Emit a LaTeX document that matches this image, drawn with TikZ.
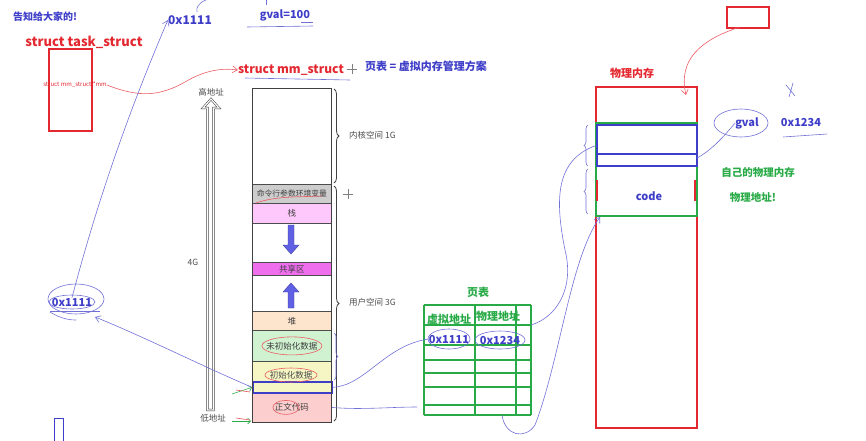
\documentclass[tikz,border=0pt]{standalone}
\usepackage{fontspec}
\setmainfont{Noto Sans CJK SC}
\usetikzlibrary{arrows.meta,decorations.pathreplacing,shapes.geometric,calc}
\definecolor{cred}{RGB}{228,40,48}
\definecolor{tblue}{RGB}{62,62,200}
\definecolor{hblue}{RGB}{112,112,215}
\definecolor{cgreen}{RGB}{40,170,70}
\definecolor{cgray}{RGB}{205,205,205}
\definecolor{cpink}{RGB}{255,200,252}
\definecolor{cmag}{RGB}{238,110,238}
\definecolor{cheap}{RGB}{252,228,205}
\definecolor{cuninit}{RGB}{208,242,208}
\definecolor{cinit}{RGB}{246,246,196}
\definecolor{ccode}{RGB}{252,206,206}
\definecolor{barrow}{RGB}{96,96,228}
\begin{document}
\begin{tikzpicture}[x=1pt,y=-1pt,
  seg/.style={draw=black!70, line width=0.8pt, minimum width=79pt, anchor=north west, inner sep=0pt, font=\fontsize{8.5}{9}\selectfont, text=black!75},
  hand/.style={draw=hblue, line width=0.6pt},
  redhand/.style={draw=cred!75, line width=0.6pt},
  harrow/.style={-{Straight Barb[length=5pt,width=7pt]}},
  btxt/.style={text=tblue, font=\bfseries\fontsize{11}{13}\selectfont, inner sep=0pt},
  rtxt/.style={text=cred, font=\bfseries\fontsize{12}{14}\selectfont, inner sep=0pt},
  gtxt/.style={text=cgreen, font=\bfseries\fontsize{10.5}{12}\selectfont, inner sep=0pt},
  small/.style={text=black!70, font=\fontsize{8.5}{9}\selectfont, inner sep=0pt},
  tline/.style={draw=cgreen, line width=1.1pt},
  blockarrow/.style={fill=barrow, draw=barrow!70!black, line width=0.4pt}
]
\useasboundingbox (0,0) rectangle (866,440);

% ---------- top left ----------
\node[btxt, font=\bfseries\fontsize{10}{12}\selectfont] (tell) at (45,17) {告知给大家的!};
\node[rtxt, font=\bfseries\fontsize{13}{15}\selectfont] (task) at (84,42) {struct task\_struct};
\draw[cred, line width=1.3pt] (49,49) rectangle (92,131);
\node[text=cred, font=\fontsize{6}{7}\selectfont, inner sep=0pt] (mmtxt) at (75,85) {struct mm\_struct *mm};

\node[btxt, font=\bfseries\fontsize{12}{14}\selectfont] (hex1top) at (190,20) {0x1111};
\node[btxt, font=\bfseries\fontsize{11}{13}\selectfont] (gval100) at (285,15) {gval=100};
\draw[hand] (266,0) -- (266,5);
\draw[hand] (247,27) -- (313,26);
\draw[hand] (301,22) -- (313,22);
\draw[hand] (206,0) .. controls (198,3) and (196,8) .. (197,12);

\node[rtxt] (mm) at (291,70) {struct mm\_struct};
\draw[hand] (245,78) -- (350,80);
\draw[black!50, line width=0.5pt] (347,69) -- (357,69) (352,64) -- (352,74);
\node[btxt] (pt) at (426,66) {页表 = 虚拟内存管理方案};

\draw[redhand, harrow] (mmtxt.east) .. controls (140,98) and (160,96) .. (185,82) .. controls (205,70) and (222,68) .. (mm.west);

% ---------- left address arrow ----------
\draw[black!80, line width=0.5pt, double=white, double distance=1.2pt, fill=white]
  (211,99) -- (219,108) -- (213.5,108) -- (213.5,410) -- (207.5,410) -- (207.5,108) -- (203,108) -- cycle;
\node[small] (hi) at (211,92) {高地址};
\node[small] (lo) at (213,418) {低地址};
\node[small] (fourg) at (193,262) {4G};

% ---------- memory column ----------
\node[seg, minimum height=96pt] (kern) at (252,88) {};
\node[seg, minimum height=19pt, fill=cgray, font=\fontsize{7.8}{8}\selectfont] (cmd) at (252,184) {命令行参数环境变量};
\node[seg, minimum height=20pt, fill=cpink] (stack) at (252,203) {栈};
\node[seg, minimum height=39pt] (gap1) at (252,223) {};
\node[seg, minimum height=13pt, fill=cmag] (shared) at (252,262) {共享区};
\node[seg, minimum height=36pt] (gap2) at (252,275) {};
\node[seg, minimum height=19pt, fill=cheap] (heap) at (252,311) {堆};
\node[seg, minimum height=31pt, fill=cuninit] (uninit) at (252,330) {未初始化数据};
\node[seg, minimum height=31pt, fill=cinit] (init) at (252,361) {};
\node[small] (inittxt) at (291,375) {初始化数据};
\node[seg, minimum height=30pt, fill=ccode] (code) at (252,392) {正文代码};
\node[draw=tblue, line width=1.6pt, minimum width=79pt, minimum height=11pt, anchor=north west, inner sep=0pt] (bbox) at (252,381) {};
\draw[black!75, line width=1pt] (252,88) rectangle (331,422);

% red hand annotations in column
\draw[redhand] (uninit.center) ellipse [x radius=30pt, y radius=9pt];
\draw[redhand] (inittxt.center) ellipse [x radius=26pt, y radius=7pt];
\draw[redhand] ($(code.center)+(-6,0)$) ellipse [x radius=13pt, y radius=7pt];
\draw[redhand] (256,203) .. controls (275,196) and (300,197) .. (322,196);

% block arrows
\draw[blockarrow] (288,225) -- (294,225) -- (294,245) -- (299,245) -- (291,254) -- (283,245) -- (288,245) -- cycle;
\draw[blockarrow] (288,308) -- (294,308) -- (294,292) -- (299,292) -- (291,283) -- (283,292) -- (288,292) -- cycle;

% braces
\draw[black!75, line width=0.8pt, decorate, decoration={brace, amplitude=5pt}] (334,89) -- (334,183) coordinate[midway] (kb);
\draw[black!75, line width=0.8pt, decorate, decoration={brace, amplitude=5pt}] (334,186) -- (334,421) coordinate[midway] (ub);
\node[small, anchor=west] (kerntxt) at (349,135) {内核空间 1G};
\node[small, anchor=west] (usertxt) at (349,302) {用户空间 3G};
\draw[hand, decorate, decoration={brace, amplitude=4pt}] (334,333) -- (334,380);
\draw[black!50, line width=0.5pt] (343,194) -- (353,194) (348,189) -- (348,199);

% small arrows into column
\draw[cgreen, line width=0.6pt, -{Straight Barb[length=3pt]}] (232,394) -- (bbox.west);
\draw[cred!80, line width=0.6pt] (236,390) -- (250,392);
\draw[cgreen, line width=0.6pt, -{Straight Barb[length=3pt]}] (232,421) -- (251,421);
\draw[cred!80, line width=0.6pt] (236,418) -- (250,420);

% ---------- left 0x1111 ----------
\node[btxt] (hex1left) at (72,302) {0x1111};
\draw[hand] (hex1left.center) ellipse [x radius=23pt, y radius=7pt];
\draw[hand] (76,299) ellipse [x radius=28pt, y radius=15pt];
\draw[hand] (50,311) -- (100,311);
\draw[hand] (50,312) .. controls (60,318) and (68,320) .. (76,320);
\draw[hand, harrow] (hex1left.north) .. controls (95,210) and (125,120) .. (hex1top.west);
\draw[hand, harrow] (bbox.west) .. controls (200,365) and (140,335) .. (95,317);

% ---------- page table ----------
\node[gtxt, font=\bfseries\fontsize{11}{13}\selectfont] (pttitle) at (478,292) {页表};
\foreach \yy in {305,325,345,360,373,387,405,415} {\draw[tline] (424,\yy) -- (531,\yy);}
\draw[tline] (424,305) -- (424,415);
\draw[tline] (475,305) -- (475,415);
\draw[tline] (516,305) -- (516,415);
\draw[tline] (531,305) -- (531,415);
\node[gtxt, font=\bfseries\fontsize{11}{13}\selectfont] (vaddr) at (449,319) {虚拟地址};
\node[gtxt, font=\bfseries\fontsize{11}{13}\selectfont] (paddr) at (498,316) {物理地址};
\node[btxt] (t1111) at (449,339) {0x1111};
\node[btxt] (t1234) at (500,340) {0x1234};
\draw[hand] (t1111.center) ellipse [x radius=21pt, y radius=10pt];
\draw[hand] (t1234.center) ellipse [x radius=25pt, y radius=9pt];
\draw[hand] (bbox.east) .. controls (365,386) and (385,345) .. (t1111.west);
\draw[hand] (code.east) .. controls (360,410) and (390,407) .. (417,407);

% ---------- physical memory ----------
\node[rtxt, font=\bfseries\fontsize{11}{13}\selectfont] (physt) at (632,73) {物理内存};
\draw[cred, line width=1.2pt] (596,87) rectangle (697,428);
\draw[cgreen, line width=1.2pt] (596,123) rectangle (697,216);
\node[draw=tblue, line width=2pt, minimum width=100pt, minimum height=41pt, anchor=north west, inner sep=0pt] (pbox) at (596,124) {};
\draw[tblue, line width=2pt] (596,154) -- (696,154);
\coordinate (pstrip) at (697,158);
\draw[cred, line width=1.2pt] (597,180) -- (597,201) (695,180) -- (695,201);
\node[btxt] (code2) at (649,196) {code};
\draw[hand, decorate, decoration={brace, mirror, amplitude=4pt}] (588,125) -- (588,166);
\draw[hand, decorate, decoration={brace, mirror, amplitude=4pt}] (588,169) -- (588,214);
\coordinate (pbot) at (600,217);
\draw[hand] (531,325) .. controls (555,318) and (575,290) .. (565,250) .. controls (555,200) and (555,160) .. (pbox.west);
\draw[hand, harrow] (502,415) .. controls (505,436) and (525,440) .. (535,425) .. controls (560,360) and (570,260) .. (pbot);

% top right
\node[draw=cred, line width=1.3pt, minimum width=42pt, minimum height=21pt, inner sep=0pt] (rbox) at (748,17.5) {};
\draw[redhand, harrow] (740,27) .. controls (700,40) and (678,60) .. (686,95);
\node[btxt] (gval) at (747,123) {gval};
\draw[hand] (741,123) ellipse [x radius=27pt, y radius=14pt];
\node[btxt] (p1234) at (801,123) {0x1234};
\draw[hand] (783,137) -- (827,134);
\draw[hand] (786,85) -- (795,96) (793,83) -- (789,97);
\draw[hand] (pstrip) .. controls (712,150) and (725,135) .. (gval.west);
\node[gtxt] (own) at (758,173) {自己的物理内存};
\node[gtxt] (paddr2) at (753,198) {物理地址!};

% bottom-left small box
\draw[tblue, line width=1pt] (54,418) rectangle (63,441);
\end{tikzpicture}
\end{document}
